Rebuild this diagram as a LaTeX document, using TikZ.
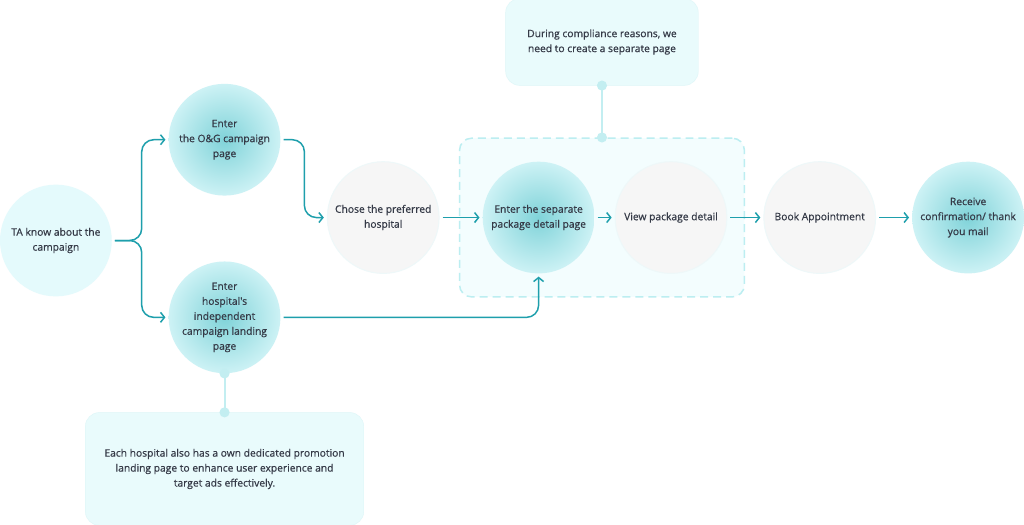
\documentclass[tikz,border=0pt]{standalone}
\usepackage{fontspec}
\setmainfont{Open Sans}
\newfontfamily\inkfont{Open Sans}[FakeBold=0.6]
\usepackage{xcolor}
\usetikzlibrary{positioning,arrows.meta,fit,backgrounds}
\definecolor{flowteal}{HTML}{1E9FAC}
\definecolor{teallight}{HTML}{CDF2F5}
\definecolor{tealdeep}{HTML}{80D3D9}
\definecolor{softcyan}{HTML}{E4FAFC}
\definecolor{paper}{HTML}{F6F6F6}
\definecolor{paperedge}{HTML}{EEF8F9}
\definecolor{notefill}{HTML}{E9FBFC}
\definecolor{noteedge}{HTML}{DDF6F8}
\definecolor{zoneedge}{HTML}{BCEEF1}
\definecolor{zonefill}{HTML}{F3FDFE}
\definecolor{tetherc}{HTML}{C3EEF1}
\definecolor{ink}{HTML}{353A47}

\begin{document}
\begin{tikzpicture}[x=1pt, y=-1pt,
      stage/.style={circle, minimum size=112pt, inner sep=0pt, align=center, text=ink, font=\inkfont\fontsize{10.3}{15}\selectfont},
      softstage/.style={stage, fill=softcyan},
      tealstage/.style={stage, inner color=tealdeep, outer color=teallight},
      graystage/.style={stage, fill=paper, draw=paperedge, line width=1pt},
      note/.style={rounded corners=14pt, fill=notefill, draw=noteedge, align=center, text=ink, font=\inkfont\fontsize{10.3}{15}\selectfont},
      zonebox/.style={rounded corners=12pt, draw=zoneedge, fill=zonefill, line width=1.5pt, dash pattern=on 8pt off 5pt},
      arr/.style={-{Straight Barb[length=4pt,width=10pt]}, line width=1.5pt, draw=flowteal, shorten >=3pt, shorten <=3pt},
      tether/.style={{Circle[length=10pt]}-{Circle[length=10pt]}, draw=tetherc, line width=2pt, shorten <=-5pt, shorten >=-5pt},
    ]
    \node[softstage] (ta) at (56,241) {TA know about the\\campaign};
    \node[tealstage] (og) at (225,140) {Enter\\the O\&G campaign\\page};
    \node[tealstage] (indep) at (225,318) {Enter\\hospital's\\independent\\campaign landing\\page};
    \node[graystage] (chose) at (384,218) {Chose the preferred\\hospital};
    \node[tealstage, right=43pt of chose] (sep) {Enter the separate\\package detail page};
    \node[graystage, right=20pt of sep] (view) {View package detail};
    \node[graystage, right=36pt of view] (book) {Book Appointment};
    \node[tealstage, right=36pt of book] (mail) {Receive\\confirmation/ thank\\you mail};
    % white page and the zone round the separate package pages
    \begin{scope}[on background layer]
      \fill[white] (0,0) rectangle (1024,526);
      \node[zonebox, fit=(sep)(view), inner xsep=20pt, inner ysep=23pt, xshift=-3pt] (zone) {};
    \end{scope}
    \useasboundingbox (0,0) rectangle (1024,526);
    \node[note, minimum width=193pt, minimum height=87pt, above=52pt of zone] (why) {During compliance reasons, we\\need to create a separate page};
    \node[note, minimum width=279pt, minimum height=113pt, below=39pt of indep] (own) {Each hospital also has a own dedicated promotion\\landing page to enhance user experience and\\target ads effectively.};
    \coordinate (fork) at (142,241);
    \coordinate (bend) at (305,180);
    \draw[arr, rounded corners=12pt] (ta.east) -- (fork) |- (og.west);
    \draw[arr, rounded corners=12pt] (ta.east) -- (fork) |- (indep.west);
    \draw[arr, rounded corners=12pt] (og.east) -| (bend) |- (chose.west);
    \draw[arr] (chose) -- (sep);
    \draw[arr, rounded corners=12pt] (indep.east) -| (sep.south);
    \draw[arr] (sep) -- (view);
    \draw[arr] (view) -- (book);
    \draw[arr] (book) -- (mail);
    \draw[tether] (why.south) -- (zone.north);
    \draw[tether] (indep.south) -- (own.north);
  \end{tikzpicture}
\end{document}
